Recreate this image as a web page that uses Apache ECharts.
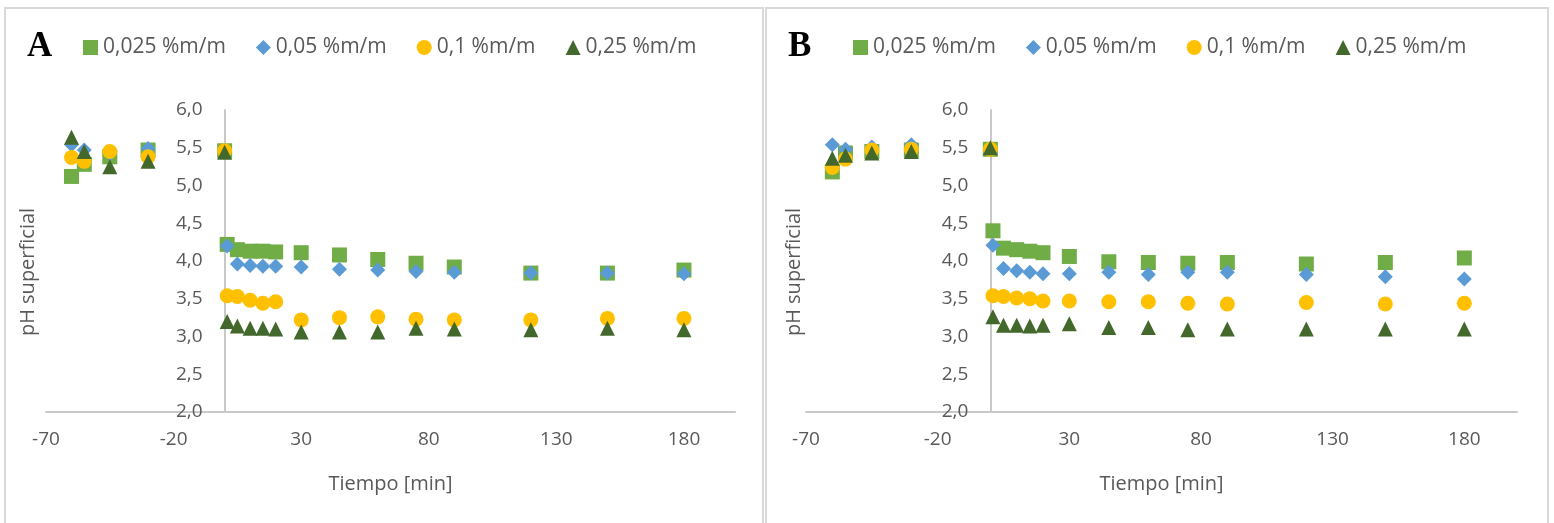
<!DOCTYPE html>
<html>
<head>
<meta charset="utf-8">
<script src="https://cdn.jsdelivr.net/npm/echarts@6/dist/echarts.min.js"></script>
<style>
  html, body { margin: 0; padding: 0; background: #fff; }
  #chart { width: 1554px; height: 523px; }
</style>
</head>
<body>
<div id="chart"></div>
<script>
// tiempo [min], igual para todas las series
const tiempo = [-60, -55, -45, -30, 0, 1, 5, 10, 15, 20, 30, 45, 60, 75, 90, 120, 150, 180];
const etiquetasX = [-70, -20, 30, 80, 130, 180];
const nombres = ['0,025 %m/m', '0,05 %m/m', '0,1 %m/m', '0,25 %m/m'];

// panel A
const phA_025 = [5.12, 5.28, 5.38, 5.47, 5.46, 4.22, 4.15, 4.13, 4.13, 4.12, 4.11, 4.08, 4.02, 3.97, 3.92, 3.84, 3.84, 3.88];
const phA_05 = [5.54, 5.47, 5.42, 5.49, 5.46, 4.20, 3.96, 3.94, 3.93, 3.93, 3.92, 3.89, 3.88, 3.86, 3.85, 3.84, 3.84, 3.83];
const phA_1 = [5.37, 5.32, 5.45, 5.38, 5.46, 3.54, 3.53, 3.48, 3.44, 3.46, 3.22, 3.25, 3.26, 3.23, 3.22, 3.22, 3.24, 3.24];
const phA_25 = [5.64, 5.45, 5.25, 5.32, 5.44, 3.20, 3.14, 3.11, 3.11, 3.10, 3.06, 3.06, 3.06, 3.11, 3.10, 3.09, 3.11, 3.09];

// panel B
const phB_025 = [5.18, 5.43, 5.45, 5.47, 5.48, 4.40, 4.17, 4.15, 4.13, 4.11, 4.06, 3.99, 3.98, 3.97, 3.98, 3.96, 3.98, 4.04];
const phB_05 = [5.54, 5.48, 5.51, 5.54, 5.48, 4.21, 3.90, 3.87, 3.85, 3.83, 3.83, 3.85, 3.82, 3.85, 3.85, 3.82, 3.79, 3.76];
const phB_1 = [5.24, 5.35, 5.47, 5.48, 5.48, 3.54, 3.53, 3.51, 3.50, 3.47, 3.47, 3.46, 3.46, 3.44, 3.43, 3.45, 3.43, 3.44];
const phB_25 = [5.36, 5.40, 5.43, 5.45, 5.50, 3.26, 3.15, 3.15, 3.14, 3.15, 3.17, 3.12, 3.12, 3.09, 3.10, 3.10, 3.10, 3.10];

const colores = ['#70AD47', '#5B9BD5', '#FFC000', '#43682B'];
const simbolos = ['rect', 'diamond', 'circle', 'triangle'];
const FONT = '"Open Sans", sans-serif';
const GRIS = '#595959';
const X_MIN = -70;
const X_MAX = 200;

// posicion de cada grid en px
const grids = [
  { left: 46, width: 689 },
  { left: 806, width: 711 },
];

const pares = (ys) => tiempo.map((t, i) => [t, ys[i]]);

const serie = (idx, ys, panel) => ({
  name: nombres[idx],
  type: 'scatter',
  xAxisIndex: panel,
  yAxisIndex: panel,
  symbol: simbolos[idx],
  symbolSize: 15,
  itemStyle: { color: colores[idx], opacity: 1 },
  data: pares(ys),
});

const ejeX = (panel) => ({
  type: 'value',
  gridIndex: panel,
  min: X_MIN,
  max: X_MAX,
  name: 'Tiempo [min]',
  nameLocation: 'middle',
  nameGap: 62,
  nameTextStyle: { fontFamily: FONT, fontSize: 20, color: GRIS },
  axisLine: { lineStyle: { color: '#c8c8c8', width: 2 } },
  axisTick: { show: false },
  splitLine: { show: false },
  axisLabel: {
    customValues: etiquetasX,
    margin: 18,
    fontFamily: FONT,
    fontSize: 19,
    color: GRIS,
  },
});

// el eje Y cruza en t = 0: se desplaza hacia dentro del grid
const ejeY = (panel) => ({
  type: 'value',
  gridIndex: panel,
  min: 2,
  max: 6,
  interval: 0.5,
  offset: -grids[panel].width * (0 - X_MIN) / (X_MAX - X_MIN),
  name: 'pH superficial',
  nameLocation: 'middle',
  nameGap: 186,
  nameTextStyle: { fontFamily: FONT, fontSize: 20, color: GRIS, padding: [0, 0, 0, -22] },
  axisLine: { onZero: false, lineStyle: { color: '#c8c8c8', width: 2 } },
  axisTick: { show: false },
  splitLine: { show: false },
  axisLabel: {
    margin: 22,
    fontFamily: FONT,
    fontSize: 19,
    color: GRIS,
    formatter: (v) => v.toFixed(1).replace('.', ','),
  },
});

const leyenda = (left) => ({
  left,
  top: 37,
  padding: 0,
  itemWidth: 15,
  itemHeight: 15,
  itemGap: 30,
  data: nombres,
  textStyle: { fontFamily: FONT, fontSize: 21, color: GRIS },
});

const chart = echarts.init(document.getElementById('chart'));
chart.setOption({
  animation: false,
  backgroundColor: '#fff',
  graphic: [
    { type: 'rect', shape: { x: 5, y: 8, width: 758, height: 530 }, style: { fill: 'none', stroke: '#d9d9d9', lineWidth: 2 } },
    { type: 'rect', shape: { x: 766, y: 8, width: 782, height: 530 }, style: { fill: 'none', stroke: '#d9d9d9', lineWidth: 2 } },
    { type: 'text', left: 27, top: 29, style: { text: 'A', font: 'bold 35px "Liberation Serif", serif', fill: '#000' } },
    { type: 'text', left: 788, top: 29, style: { text: 'B', font: 'bold 35px "Liberation Serif", serif', fill: '#000' } },
  ],
  legend: [leyenda(83), leyenda(853)],
  grid: grids.map((g) => ({
    left: g.left,
    width: g.width,
    top: 110,
    bottom: 111,
    outerBoundsMode: 'none',
  })),
  xAxis: [ejeX(0), ejeX(1)],
  yAxis: [ejeY(0), ejeY(1)],
  series: [
    serie(0, phA_025, 0),
    serie(1, phA_05, 0),
    serie(2, phA_1, 0),
    serie(3, phA_25, 0),
    serie(0, phB_025, 1),
    serie(1, phB_05, 1),
    serie(2, phB_1, 1),
    serie(3, phB_25, 1),
  ],
});
</script>
</body>
</html>
